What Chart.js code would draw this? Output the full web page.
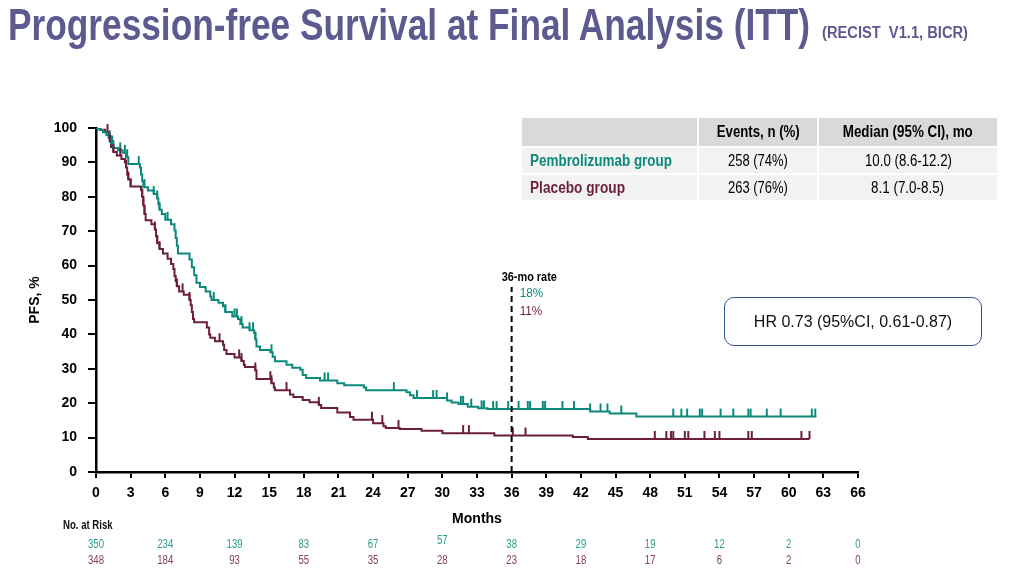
<!DOCTYPE html>
<html>
<head>
<meta charset="utf-8">
<script src="https://cdn.jsdelivr.net/npm/chart.js@4.4.1/dist/chart.umd.min.js"></script>
<style>
  html, body { margin:0; padding:0; background:#fff; }
  body { width:1031px; height:575px; position:relative; overflow:hidden; font-family:"Liberation Sans", Arial, sans-serif; }
  .fit { display:inline-block; white-space:nowrap; }
  #title { position:absolute; left:8px; top:3px; font-size:44px; line-height:44px; font-weight:bold; color:#5c5a8e; transform-origin:left center; }
  #subtitle { position:absolute; left:822px; top:25px; font-size:16px; line-height:16px; font-weight:bold; color:#5c5a8e; transform-origin:left center; }
  #wrap { position:absolute; left:0; top:0; width:1031px; height:575px; }
  .cell { position:absolute; display:flex; align-items:center; justify-content:center; font-size:16px; color:#000; white-space:nowrap; }
  .cell .fit { transform-origin:center center; }
  .hdr { background:#d9d9d9; font-weight:bold; }
  .row { background:#f2f2f2; }
  .lab { justify-content:flex-start; padding-left:8px; box-sizing:border-box; font-weight:bold; }
  .lab .fit { transform-origin:left center; }
  #hr { position:absolute; left:724px; top:297px; width:258px; height:49px; box-sizing:border-box; border:1.6px solid #2f5597; border-radius:10px; display:flex; align-items:center; justify-content:center; font-size:16px; color:#111; }
</style>
</head>
<body>
<div id="wrap"><canvas id="c" width="1031" height="575"></canvas></div>
<div id="title" class="fit" data-w="802">Progression-free Survival at Final Analysis (ITT)</div>
<div id="subtitle" class="fit" data-w="146">(RECIST&nbsp; V1.1, BICR)</div>

<div class="cell hdr" style="left:522px;top:118px;width:175px;height:28px;"></div>
<div class="cell hdr" style="left:699px;top:118px;width:118px;height:28px;"><span class="fit" data-w="83">Events, n (%)</span></div>
<div class="cell hdr" style="left:819px;top:118px;width:178px;height:28px;"><span class="fit" data-w="130">Median (95% CI), mo</span></div>
<div class="cell row lab" style="left:522px;top:148px;width:175px;height:25px;color:#0b8a7c;"><span class="fit" data-w="142">Pembrolizumab group</span></div>
<div class="cell row" style="left:699px;top:148px;width:118px;height:25px;"><span class="fit" data-w="60">258 (74%)</span></div>
<div class="cell row" style="left:819px;top:148px;width:178px;height:25px;"><span class="fit" data-w="87">10.0 (8.6-12.2)</span></div>
<div class="cell row lab" style="left:522px;top:175px;width:175px;height:25px;color:#6b1f3a;"><span class="fit" data-w="95">Placebo group</span></div>
<div class="cell row" style="left:699px;top:175px;width:118px;height:25px;"><span class="fit" data-w="60">263 (76%)</span></div>
<div class="cell row" style="left:819px;top:175px;width:178px;height:25px;"><span class="fit" data-w="73">8.1 (7.0-8.5)</span></div>

<div id="hr">HR 0.73 (95%CI, 0.61-0.87)</div>

<script>
// ---------------- data ----------------
const xTicks = [0,3,6,9,12,15,18,21,24,27,30,33,36,39,42,45,48,51,54,57,60,63,66];
const yTicks = [0,10,20,30,40,50,60,70,80,90,100];

const pembroTimes = [0,0.3,0.6,0.9,1.1,1.3,1.5,1.9,2.3,2.6,2.8,3.8,3.9,4.0,4.1,4.5,5.0,5.3,5.4,5.5,5.7,6.0,6.5,6.8,6.9,7.0,7.1,8.1,8.3,8.5,8.7,9.0,9.5,9.9,10.0,10.6,11.0,11.2,11.8,12.3,12.5,12.7,13.3,13.7,13.8,13.9,14.2,15.1,15.3,15.5,16.5,17.0,17.7,17.9,18.2,19.4,20.9,21.5,23.2,23.4,26.9,27.2,27.5,30.4,30.8,31.4,32.2,33.1,33.9,42.8,44.5,46.8,62.4];
const pembroPFS   = [100,99.4,98.8,98.0,97.0,95.5,94.2,93.5,92.8,91.5,89.5,88.5,86.5,84.5,82.8,81.8,80.8,79.5,77.8,76.2,75.0,73.3,72.0,70.2,68.0,65.8,63.5,61.8,59.5,57.2,55.0,53.8,52.5,51.0,50.0,49.2,48.2,46.5,45.2,44.5,43.0,42.0,41.2,40.4,38.5,36.5,35.5,34.8,33.5,32.2,31.2,30.3,29.7,28.2,27.3,26.6,25.8,25.2,24.6,23.8,23.2,22.3,21.5,20.8,20.2,19.8,19.0,18.5,18.3,17.6,17.0,16.1,16.1];

const placeboTimes = [0,0.4,0.8,1.1,1.2,1.3,1.5,1.8,2.2,2.5,2.6,2.7,2.8,3.0,3.9,4.0,4.1,4.2,4.3,4.8,5.1,5.2,5.3,5.5,5.8,6.2,6.5,6.7,6.8,6.9,7.0,7.2,7.6,8.1,8.2,8.3,8.4,8.5,9.6,9.8,9.9,10.3,11.0,11.1,11.3,12.0,12.6,12.8,12.9,13.8,13.9,15.2,15.4,15.5,16.8,17.1,17.9,18.5,19.3,19.5,20.9,22.0,22.3,24.0,24.9,25.1,26.3,28.2,30.0,34.5,41.3,42.6,61.8];
const placeboPFS   = [100,99.5,98.8,97.5,96.0,94.5,93.0,92.0,91.0,90.0,88.5,86.5,85.0,83.0,82.0,80.0,77.5,75.0,73.2,72.0,70.5,68.5,66.5,64.8,63.5,62.0,60.5,59.0,57.0,55.5,54.0,52.5,51.5,50.0,48.5,46.5,44.5,43.5,42.0,40.0,39.0,38.0,37.0,35.5,34.3,33.3,32.3,31.2,30.5,29.5,27.0,25.8,24.6,23.8,22.5,21.8,20.9,20.3,19.5,18.6,17.3,16.0,15.2,14.2,13.3,12.8,12.5,12.0,11.3,10.6,10.2,9.6,9.6];

const pembroCensor = [1.2,1.3,1.4,1.5,2.1,2.5,2.7,3.7,4.2,5.0,5.3,5.5,6.2,10.2,11.2,12.0,12.2,12.6,13.3,13.6,13.8,15.2,19.8,20.1,25.8,27.8,29.2,29.5,30.4,31.6,31.8,32.5,33.4,33.6,34.4,34.7,35.7,36.6,37.4,37.6,38.7,38.9,40.4,41.4,42.8,43.7,44.3,45.5,50.0,50.7,51.2,52.3,52.5,54.1,55.2,56.5,56.7,58.1,59.3,62.0,62.3];
const placeboCensor = [1.0,1.2,1.5,2.1,2.6,2.8,3.0,4.0,4.1,4.2,5.1,5.3,5.5,7.0,7.5,8.1,10.7,12.4,12.6,13.8,15.1,15.2,16.5,19.3,23.9,24.8,26.2,31.8,32.3,36.1,37.2,48.4,49.4,49.8,50.0,51.0,51.3,52.7,53.6,54.0,56.5,56.8,61.1,61.8];

const riskMonths = [0,6,12,18,24,30,36,42,48,54,60,66];
const pembroRisk = [350,234,139,83,67,57,38,29,19,12,2,0];
const placeboRisk = [348,184,93,55,35,28,23,18,17,6,2,0];

const rateMonth = 36;
const rateLabels = ["36-mo rate","18%","11%"];

const TEAL = '#0b8a7c';
const MAROON = '#6b1f3a';
const SANS = '"Liberation Sans", Arial, sans-serif';

// condense HTML text to the reference widths
document.querySelectorAll('.fit').forEach(el=>{
  const w = parseFloat(el.dataset.w);
  const r = el.getBoundingClientRect().width;
  if (w && r) el.style.transform = 'scaleX(' + (w/r).toFixed(4) + ')';
});

function pts(t, v){ return t.map((x,i)=>({x:x, y:v[i]})); }
function survAt(t, times, vals){
  let s = vals[0];
  for (let i=0;i<times.length;i++){ if (times[i] <= t) s = vals[i]; else break; }
  return s;
}
function narrowText(ctx, txt, x, y, sx, align){
  ctx.save();
  ctx.translate(x, y);
  ctx.scale(sx, 1);
  ctx.textAlign = align;
  ctx.fillText(txt, 0, 0);
  ctx.restore();
}

// ---------------- plugins ----------------
const censorPlugin = {
  id:'censor',
  afterDatasetsDraw(chart){
    const {ctx, scales:{x,y}} = chart;
    const groups = [[pembroCensor, pembroTimes, pembroPFS, TEAL],[placeboCensor, placeboTimes, placeboPFS, MAROON]];
    ctx.save();
    ctx.lineWidth = 2;
    groups.forEach(([cens, t, v, col])=>{
      ctx.strokeStyle = col;
      cens.forEach(c=>{
        const px = x.getPixelForValue(c);
        const py = y.getPixelForValue(survAt(c, t, v));
        ctx.beginPath(); ctx.moveTo(px, py); ctx.lineTo(px, py-8); ctx.stroke();
      });
    });
    // 36-month dashed line
    const lx = x.getPixelForValue(rateMonth);
    ctx.strokeStyle = '#000'; ctx.lineWidth = 2; ctx.setLineDash([6,4]);
    ctx.beginPath(); ctx.moveTo(lx, y.getPixelForValue(0)); ctx.lineTo(lx, y.getPixelForValue(53.8)); ctx.stroke();
    ctx.setLineDash([]);
    ctx.textBaseline = 'middle';
    ctx.font = 'bold 13px ' + SANS; ctx.fillStyle = '#000';
    narrowText(ctx, rateLabels[0], lx - 10, y.getPixelForValue(56.7), 0.84, 'left');
    ctx.font = '13px ' + SANS;
    ctx.fillStyle = TEAL; narrowText(ctx, rateLabels[1], lx + 8, y.getPixelForValue(51.8), 0.9, 'left');
    ctx.fillStyle = MAROON; narrowText(ctx, rateLabels[2], lx + 8, y.getPixelForValue(46.8), 0.9, 'left');
    ctx.restore();
  },
  afterDraw(chart){
    const {ctx, scales:{x}} = chart;
    ctx.save();
    ctx.textBaseline = 'middle';
    ctx.font = 'bold 12px ' + SANS; ctx.fillStyle = '#111';
    narrowText(ctx, 'No. at Risk', 63, 526, 0.8, 'left');
    ctx.font = '12px ' + SANS;
    riskMonths.forEach((m,i)=>{
      const px = x.getPixelForValue(m);
      ctx.fillStyle = '#2b9b8d';
      narrowText(ctx, String(pembroRisk[i]), px, m===30 ? 541 : 545, 0.8, 'center');
      ctx.fillStyle = '#84405b';
      narrowText(ctx, String(placeboRisk[i]), px, 561, 0.8, 'center');
    });
    ctx.restore();
  }
};

// ---------------- chart ----------------
new Chart(document.getElementById('c'), {
  type:'line',
  data:{
    datasets:[
      {label:'Pembrolizumab group', data:pts(pembroTimes, pembroPFS), borderColor:TEAL, borderWidth:2, stepped:'before', pointRadius:0, fill:false},
      {label:'Placebo group', data:pts(placeboTimes, placeboPFS), borderColor:MAROON, borderWidth:2, stepped:'before', pointRadius:0, fill:false}
    ]
  },
  options:{
    responsive:false, animation:false, maintainAspectRatio:false,
    layout:{padding:{left:0, right:173, top:128, bottom:0}},
    plugins:{legend:{display:false}, tooltip:{enabled:false}},
    scales:{
      x:{
        type:'linear', min:0, max:66,
        afterFit(s){ s.height = 103; },
        afterBuildTicks(s){ s.ticks = xTicks.map(v=>({value:v})); },
        border:{color:'#000', width:2.5},
        grid:{display:true, drawOnChartArea:false, drawTicks:true, tickLength:6, color:'#000', lineWidth:2},
        ticks:{color:'#000', padding:7, maxRotation:0, autoSkip:false, font:{family:SANS, size:14, weight:'bold'}},
        title:{display:true, text:'Months', color:'#000', font:{family:SANS, size:14, weight:'bold'}, padding:{top:4, bottom:47}}
      },
      y:{
        type:'linear', min:0, max:100,
        afterFit(s){ s.width = 96; },
        afterBuildTicks(s){ s.ticks = yTicks.map(v=>({value:v})); },
        border:{color:'#000', width:2.5},
        grid:{display:true, drawOnChartArea:false, drawTicks:true, tickLength:8, color:'#000', lineWidth:2},
        ticks:{color:'#000', padding:11, autoSkip:false, font:{family:SANS, size:14, weight:'bold'}},
        title:{display:true, text:'PFS, %', color:'#000', font:{family:SANS, size:14, weight:'bold'}, padding:{top:27, bottom:0}}
      }
    }
  },
  plugins:[censorPlugin]
});
</script>
</body>
</html>
